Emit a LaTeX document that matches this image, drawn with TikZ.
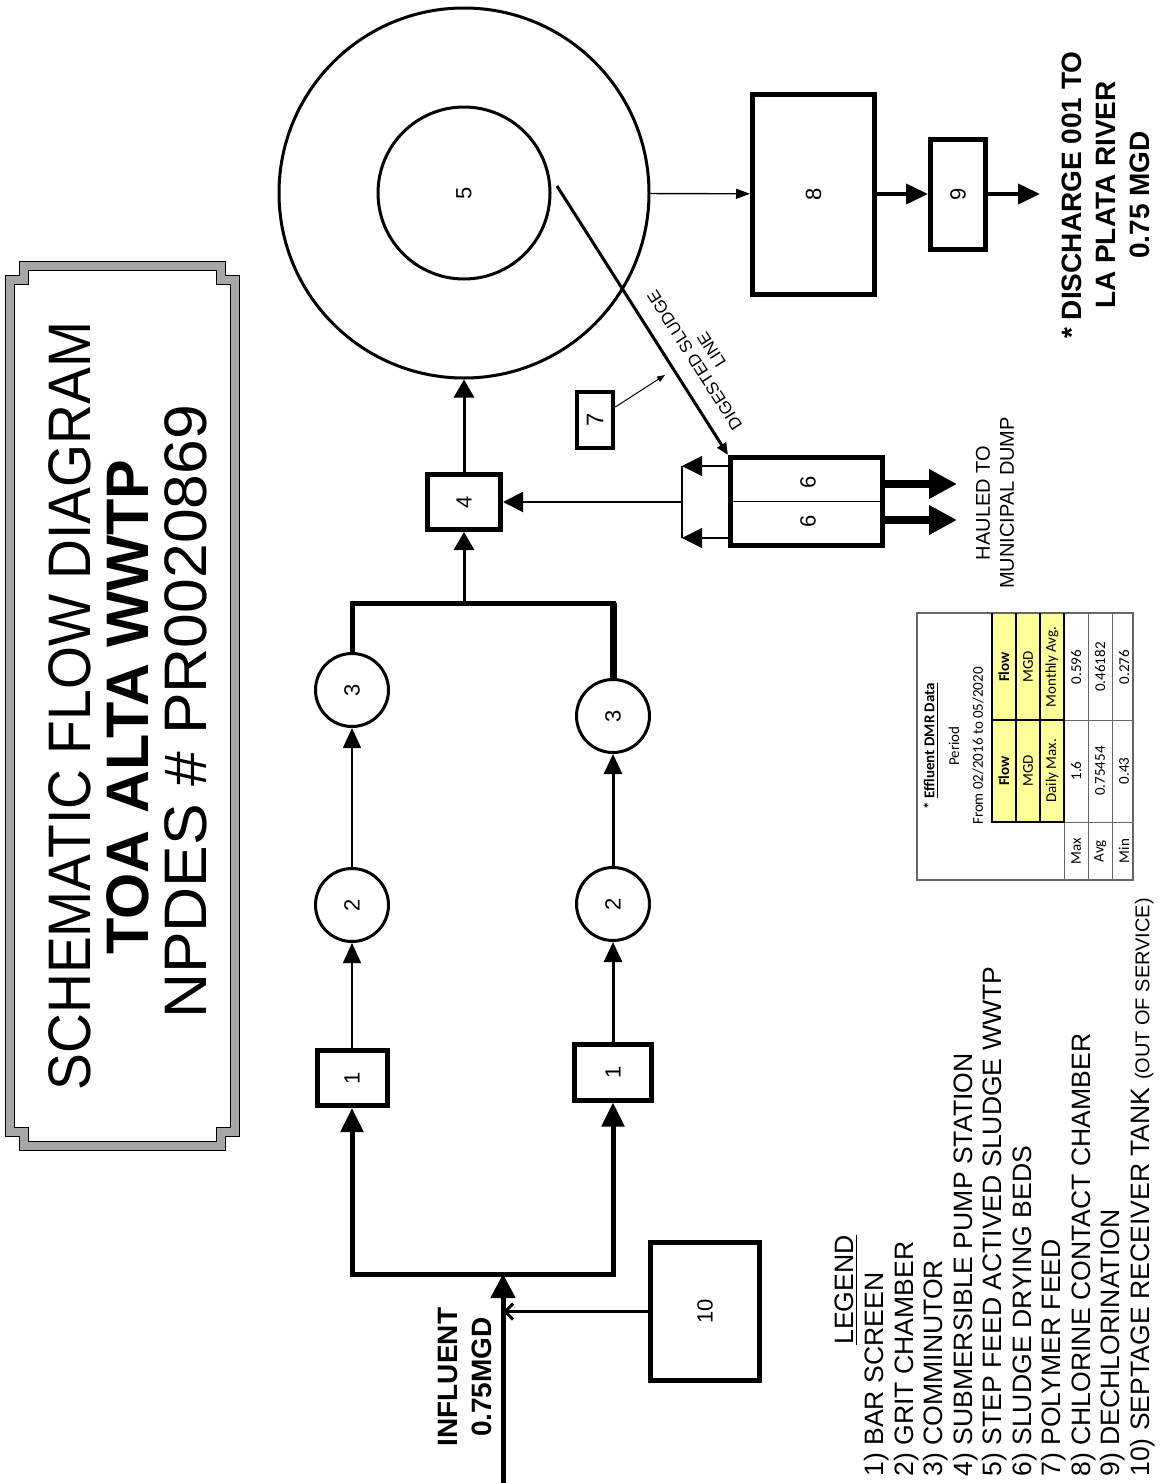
\documentclass[tikz,border=0pt]{standalone}
\usepackage{fontspec}
\setmainfont{Liberation Sans}
\newfontfamily\calib{Carlito}
\usepackage{graphicx}
\usetikzlibrary{arrows.meta,calc}
\newcommand{\rt}[1]{\rotatebox{90}{#1}}
\newcommand{\fs}[2]{\fontsize{#1}{#2}\selectfont}
\definecolor{hdr}{RGB}{255,255,153}
\begin{document}
\begin{tikzpicture}[x=0.5pt,y=-0.5pt, line join=miter,
 bx/.style={draw, line width=2.5pt, inner sep=0pt, font=\fs{11}{12}},
 cir/.style={draw, circle, line width=1.5pt, minimum size=36.5pt, inner sep=0pt, font=\fs{11}{12}},
 lg/.style={rotate=90, anchor=west, inner sep=0pt, font=\fs{13.3}{15}},
 tb/.style={rotate=90, inner sep=0pt, font=\calib\fs{7.5}{9}},
 tt/.style={rotate=90, inner sep=0pt},
 tipL/.style={-{Triangle[length=12pt,width=11pt]}},
 tipM/.style={-{Triangle[length=10pt,width=9pt]}},
]
\useasboundingbox (0,0) rectangle (1160,1483);

% ---------- title frame ----------
\draw[draw=black, line width=0.5pt, double=black!35, double distance=4pt]
  (24,266) -- (221,266) -- (221,280) -- (235,280) -- (235,1132) -- (221,1132)
  -- (221,1146) -- (24,1146) -- (24,1132) -- (10,1132) -- (10,280) -- (24,280) -- cycle;
\node[tt, font=\fs{30}{33}, xscale=0.92] (ti1) at (70,706) {SCHEMATIC FLOW DIAGRAM};
\node[tt, font=\bfseries\fs{30}{33}, xscale=0.99] (ti2) at (128,707) {TOA ALTA WWTP};
\node[tt, font=\fs{30}{33}, xscale=1.04] (ti3) at (186,712) {NPDES \# PR0020869};

% ---------- process nodes ----------
\node[bx, minimum width=35pt, minimum height=27.5pt] (b1L) at (352,1078) {\rt{1}};
\node[bx, minimum width=38.5pt, minimum height=28pt] (b1R) at (613,1072) {\rt{1}};
\node[cir] (c2L) at (352,905) {\rt{2}};
\node[cir] (c2R) at (613,904) {\rt{2}};
\node[cir] (c3L) at (352,690) {\rt{3}};
\node[cir] (c3R) at (613,716) {\rt{3}};
\node[bx, minimum width=36.5pt, minimum height=27.5pt] (b4) at (464,502) {\rt{4}};
\draw[line width=2pt] ([xshift=1.5pt]b4.north west) -- ([xshift=1.5pt]b4.south west);
\node[draw, circle, line width=1.5pt, minimum size=185pt, inner sep=0pt] (c5o) at (464,193) {};
\node[draw, circle, line width=1.5pt, minimum size=86pt, inner sep=0pt, font=\fs{11}{12}] (c5i) at (464,193) {\rt{5}};
\node[bx, minimum width=76pt, minimum height=44pt] (b6) at (806.5,501.5) {};
\node[font=\fs{11}{12}, inner sep=0pt] (l6a) at (808,482) {\rt{6}};
\node[font=\fs{11}{12}, inner sep=0pt] (l6b) at (808,521) {\rt{6}};
\node[bx, line width=2.2pt, minimum width=18pt, minimum height=28pt, font=\fs{12}{13}] (b7) at (595,420) {\rt{7}};
\node[bx, minimum width=61pt, minimum height=100pt] (b8) at (813.5,194) {\rt{8}};
\draw[line width=2pt] ([xshift=-1.5pt]b8.north east) -- ([xshift=-1.5pt]b8.south east);
\node[bx, minimum width=27.5pt, minimum height=55pt] (b9) at (958,194) {\rt{9}};
\draw[line width=1.5pt] ([xshift=-1.5pt]b9.north east) -- ([xshift=-1.5pt]b9.south east);
\node[bx, minimum width=54.5pt, minimum height=69pt] (b10) at (705,1311.5) {\rt{10}};

% ---------- connectors ----------
\coordinate (inS) at (503,1483);
\coordinate (jIn) at (503,1274);
\draw[line width=2.5pt, -{Triangle[length=12pt,width=12pt]}] (inS) -- (jIn);
\draw[line width=2.5pt, tipL] (jIn) -| (b1L);
\draw[line width=2.5pt, tipL] (jIn) -| (b1R);
\draw[line width=1.5pt, -{Straight Barb[length=4pt,width=8pt]}] (b10.west) -- (b10.west -| inS);

\draw[line width=0.8pt, -{Triangle[length=10pt,width=9pt]}] (b1L) -- (c2L);
\draw[line width=1.5pt, tipM] (b1R) -- (c2R);
\draw[line width=0.8pt, -{Triangle[length=10pt,width=9pt]}] (c2L) -- (c3L);
\draw[line width=1.5pt, tipM] (c2R) -- (c3R);

\coordinate (busT) at (464,603);
\draw[line width=2.5pt] (c3L.north) |- (busT) -| (c3R.north);
\draw[line width=3.5pt] (c3R.north) -- (c3R.north |- busT);
\draw[line width=1.5pt, -{Triangle[length=9pt,width=10pt]}] (busT) -- (b4);
\draw[line width=1.5pt, -{Triangle[length=9pt,width=10pt]}] (b4) -- (c5o);

\coordinate (jA) at (682,466);
\coordinate (jB) at (682,538);
\coordinate (jM) at (682,502);
\draw[line width=0.6pt, -{Triangle[length=10pt,width=10pt]}] (jA -| b6.west) -- (jA);
\draw[line width=0.6pt, -{Triangle[length=10pt,width=10pt]}] (jB -| b6.west) -- (jB);
\draw[line width=0.6pt] (jA) -- (jB);
\draw[line width=1pt, -{Triangle[length=10pt,width=10pt]}] (jM) -- (b4);
\draw[line width=0.8pt] (b6.west) -- (b6.east);

\coordinate (hA) at (957,484);
\coordinate (hB) at (957,520);
\draw[line width=4pt, -{Triangle[length=14pt,width=14pt]}] (hA -| b6.east) -- (hA);
\draw[line width=4pt, -{Triangle[length=14pt,width=14pt]}] (hB -| b6.east) -- (hB);
\node[tt, align=center, font=\fs{10}{12}] (haul) at (995,503) {HAULED TO\\MUNICIPAL DUMP};

\coordinate (slS) at (557,186);
\draw[line width=1.5pt, -{Triangle[length=6pt,width=5pt]}] (slS) -- (b6.north west);
\node[rotate=122.5, align=center, inner sep=0pt, font=\fs{8.5}{10}] (slL) at (703,355) {DIGESTED SLUDGE\\LINE};

\coordinate (s7) at (665,375);
\draw[line width=0.5pt, -{Triangle[length=4pt,width=3pt]}] (b7) -- (s7);

\draw[line width=0.7pt, -{Triangle[length=7pt,width=5pt]}] (c5o) -- (b8);
\draw[line width=2pt, -{Triangle[length=11pt,width=10pt]}] (b8) -- (b9);
\coordinate (out) at (1040,194);
\draw[line width=2pt, -{Triangle[length=11pt,width=10pt]}] (b9) -- (out);

\node[tt, align=center, font=\bfseries\fs{14}{17}] (dis) at (1106,195) {* DISCHARGE 001 TO\\LA PLATA RIVER\\0.75 MGD};
\node[tt, align=center, font=\bfseries\fs{14}{17}] (infl) at (465,1377) {INFLUENT\\0.75MGD};

% ---------- table ----------
\fill[hdr] (992,613) rectangle (1064,822);
\draw[black!60, line width=0.6pt] (917,613) rectangle (1133,880);
\draw[black!60, line width=0.5pt] (1064,822) -- (1064,880)
  (1088,613) -- (1088,880) (1112,613) -- (1112,880)
  (1064,822) -- (1133,822) (1064,720) -- (1133,720);
\draw[black, line width=0.8pt] (992,613) -- (992,822) -- (1064,822) -- (1064,613)
  (1016,613) -- (1016,822) (1040,613) -- (1040,822) (992,720) -- (1064,720);
\node[tb, font=\calib\bfseries\fs{7.5}{9}] (tA) at (931,746) {* \underline{Effluent DMR Data}};
\node[tb] (tB) at (954,746) {Period};
\node[tb] (tC) at (978,746) {From 02/2016 to 05/2020};
\node[tb, font=\calib\bfseries\fs{7.5}{9}] (h1) at (1004,771) {Flow};
\node[tb, font=\calib\bfseries\fs{7.5}{9}] (h2) at (1004,667) {Flow};
\node[tb] (h3) at (1028,771) {MGD};
\node[tb] (h4) at (1028,667) {MGD};
\node[tb] (h5) at (1052,771) {Daily Max.};
\node[tb] (h6) at (1052,667) {Monthly Avg.};
\node[tb] (r1a) at (1076,851) {Max};
\node[tb] (r1b) at (1076,771) {1.6};
\node[tb] (r1c) at (1076,667) {0.596};
\node[tb] (r2a) at (1100,851) {Avg};
\node[tb] (r2b) at (1100,771) {0.75454};
\node[tb] (r2c) at (1100,667) {0.46182};
\node[tb] (r3a) at (1124,851) {Min};
\node[tb] (r3b) at (1124,771) {0.43};
\node[tb] (r3c) at (1124,667) {0.276};

% ---------- legend ----------
\node[tt, font=\fs{13.3}{15}] (lgT) at (846,1290) {\underline{LEGEND}};
\node[lg] (lg1) at (877,1477) {1) BAR SCREEN};
\node[lg] (lg2) at (906.5,1477) {2) GRIT CHAMBER};
\node[lg] (lg3) at (936,1477) {3) COMMINUTOR};
\node[lg] (lg4) at (965.5,1477) {4) SUBMERSIBLE PUMP STATION};
\node[lg] (lg5) at (995,1477) {5) STEP FEED ACTIVED SLUDGE WWTP};
\node[lg] (lg6) at (1024.5,1477) {6) SLUDGE DRYING BEDS};
\node[lg] (lg7) at (1054,1477) {7) POLYMER FEED};
\node[lg] (lg8) at (1083.5,1477) {8) CHLORINE CONTACT CHAMBER};
\node[lg] (lg9) at (1113,1477) {9) DECHLORINATION};
\node[lg] (lg10) at (1142.5,1477) {10) SEPTAGE RECEIVER TANK {\fs{10}{11}(OUT OF SERVICE)}};
\end{tikzpicture}
\end{document}
